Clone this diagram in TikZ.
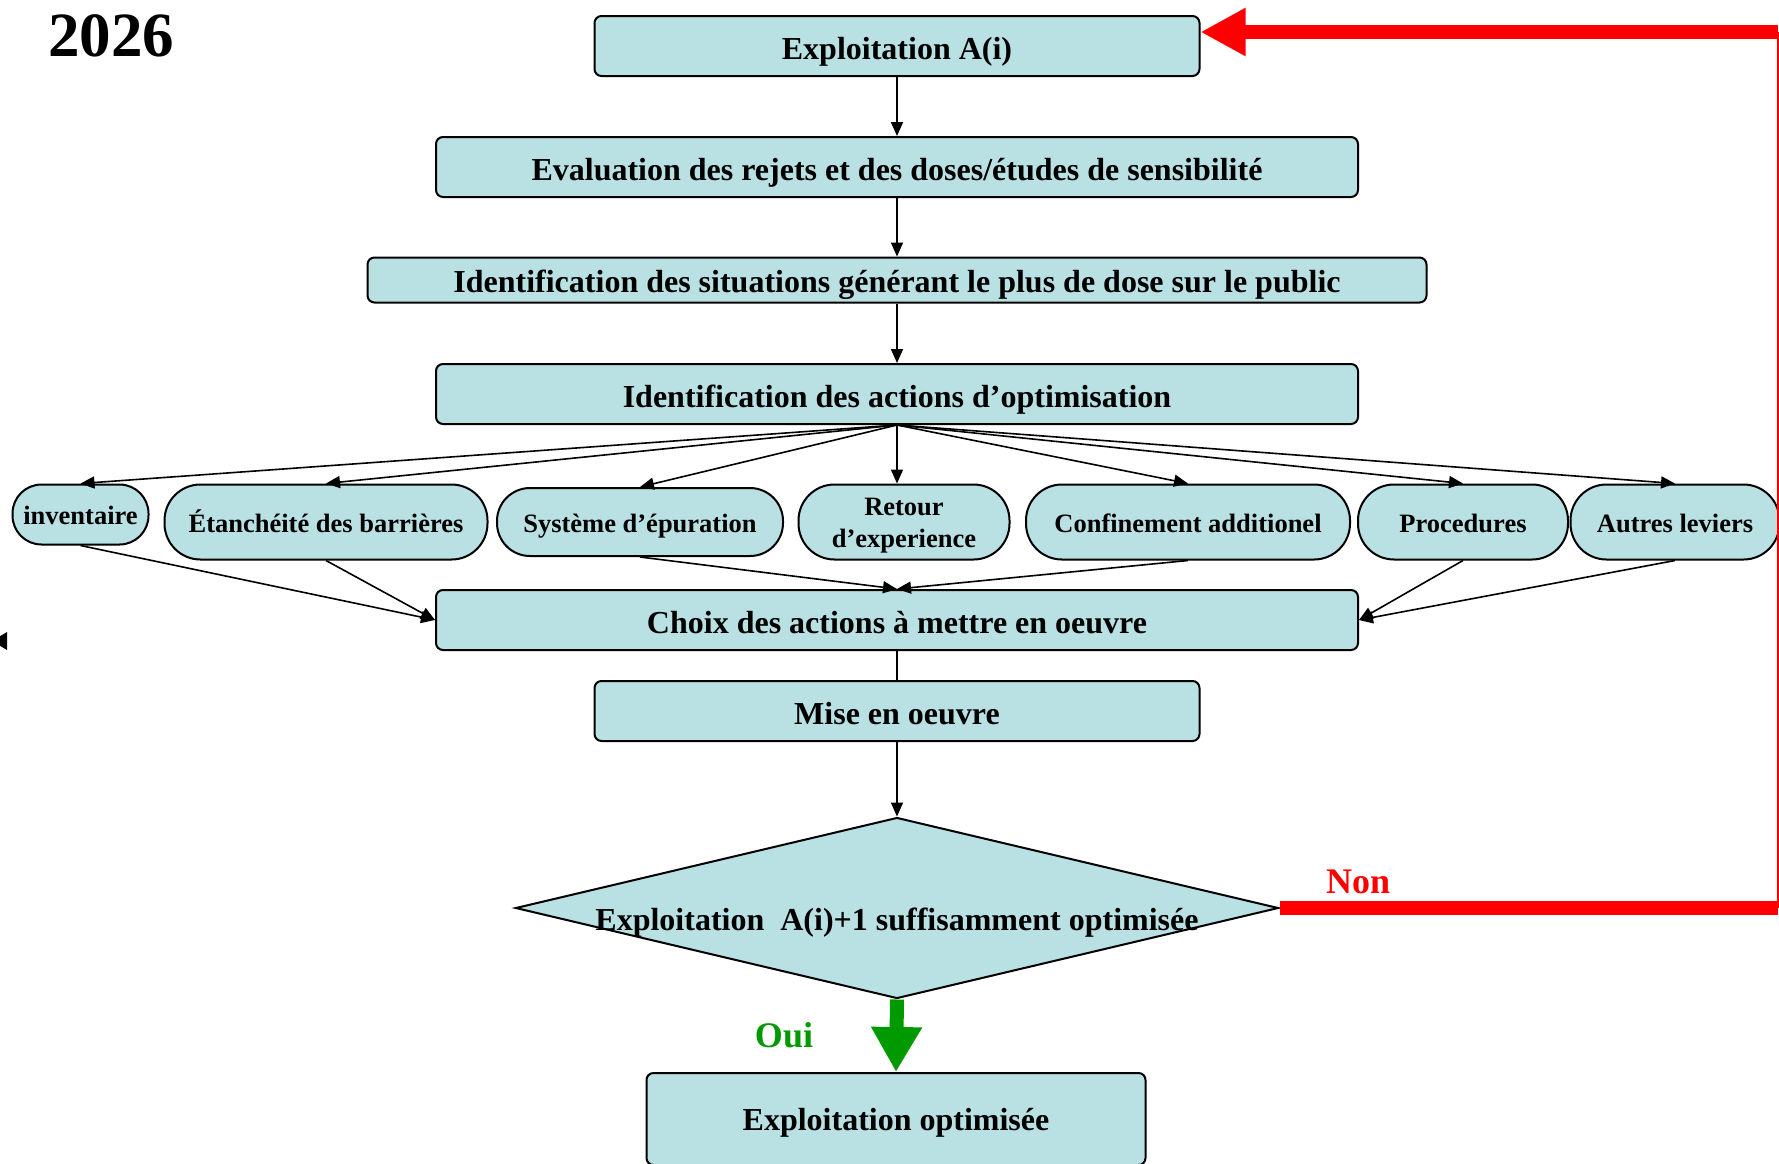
\documentclass[tikz,border=0pt]{standalone}
\usepackage{fontspec}
\setmainfont{Liberation Serif}
\usetikzlibrary{arrows.meta,shapes.geometric}
\definecolor{bleuboite}{RGB}{185,224,227}
\definecolor{vertoui}{RGB}{0,153,0}
\tikzset{
	boite/.style={draw, line width=2pt, fill=bleuboite, rounded corners=7pt, inner sep=0pt, minimum height=60pt, text height=26pt, text depth=0pt, font=\fontsize{32}{34}\selectfont\bfseries},
	ovale/.style={draw, line width=2pt, fill=bleuboite, rounded corners=36pt, inner sep=0pt, minimum height=75pt, text height=20pt, text depth=0pt, align=center, font=\fontsize{26.5}{32}\selectfont\bfseries},
	fleche/.style={line width=1.6pt, -{Triangle[length=14pt,width=12pt]}},
}

\begin{document}
\begin{tikzpicture}[x=1pt, y=-1pt]
			%%%%% START %%%%%
			\clip (0, 0) rectangle (1779, 1163);
			
			\node[font=\fontsize{63}{63}\selectfont\bfseries] (annee) at (111, 36) {2026};
			
			\node[boite, minimum width=605pt] (expl) at (897, 46) {Exploitation A(i)};
			\node[boite, minimum width=922pt] (eval) at (897, 167) {Evaluation des rejets et des doses/études de sensibilité};
			\node[boite, minimum width=1059pt, minimum height=45pt, text height=25pt] (situ) at (897, 280) {Identification des situations générant le plus de dose sur le public};
			\node[boite, minimum width=922pt] (actions) at (897, 394) {Identification des actions d’optimisation};
			
			\node[ovale, minimum width=136pt, minimum height=60pt, rounded corners=29pt] (inventaire) at (80.5, 514.5) {inventaire};
			\node[ovale, minimum width=323pt] (etancheite) at (326, 522) {Étanchéité des barrières};
			\node[ovale, minimum width=286pt, minimum height=68pt, rounded corners=33pt] (systeme) at (640, 522) {Système d’épuration};
			\node[ovale, minimum width=211pt, text height=50pt] (retour) at (904, 522) {Retour\\d’experience};
			\node[ovale, minimum width=324pt] (confinement) at (1188, 522) {Confinement additionel};
			\node[ovale, minimum width=210pt] (procedures) at (1463, 522) {Procedures};
			\node[ovale, minimum width=209pt] (autres) at (1675, 522) {Autres leviers};
			
			\node[boite, minimum width=922pt] (choix) at (897, 620) {Choix des actions à mettre en oeuvre};
			\node[boite, minimum width=605pt] (mise) at (897, 711) {Mise en oeuvre};
			
			\node[draw, line width=2pt, fill=bleuboite, shape=diamond, minimum width=763pt, minimum height=181pt, inner sep=0pt] (decision) at (897, 908) {};
			\node[font=\fontsize{32}{34}\selectfont\bfseries, text height=26pt, text depth=0pt] (dectexte) at (897, 917) {Exploitation\ \ A(i)+1 suffisamment optimisée};
			
			\node[boite, minimum width=499pt, minimum height=92pt, text height=22pt] (finale) at (896, 1119) {Exploitation optimisée};
			
			% fleches principales
			\draw[fleche] (expl) -- (eval);
			\draw[fleche] (eval) -- (situ);
			\draw[fleche] (situ) -- (actions);
			\foreach \o in {inventaire, etancheite, systeme, confinement, procedures, autres}
				\draw[fleche] (actions.south) -- (\o.north);
			\draw[fleche] (actions.south) -- (actions.south |- retour.north);
			
			\draw[fleche] (inventaire.south) -- (choix.west);
			\draw[fleche] (etancheite.south) -- (choix.west);
			\draw[fleche] (systeme.south) -- (choix.north);
			\draw[fleche] (confinement.south) -- (choix.north);
			\draw[fleche] (procedures.south) -- (choix.east);
			\draw[fleche] (autres.south) -- (choix.east);
			
			\draw[line width=1.6pt] (choix) -- (mise);
			\draw[fleche] (mise) -- (decision);
			
			% oui
			\draw[vertoui, line width=14pt, -{Triangle[length=45pt,width=48pt]}] (decision.south) -- (finale.north);
			\node[vertoui, font=\fontsize{36}{36}\selectfont\bfseries] (oui) at (784, 1035) {Oui};
			
			% non
			\coordinate (coinbas) at (1778, 908);
			\coordinate (coinhaut) at (1778, 32);
			\draw[red, line width=14pt] (decision.east) -- (coinbas);
			\draw[red, line width=1.5pt] (coinbas) -- (coinhaut);
			\draw[red, line width=14pt, -{Triangle[length=45pt,width=45pt]}] (coinhaut) -- (expl.east |- coinhaut);
			\node[red, font=\fontsize{36}{36}\selectfont\bfseries] (non) at (1358, 882) {Non};
			
			\fill (-8, 641) -- (7, 632) -- (7, 650) -- cycle;
			%%%%% END %%%%%
\end{tikzpicture}
\end{document}
